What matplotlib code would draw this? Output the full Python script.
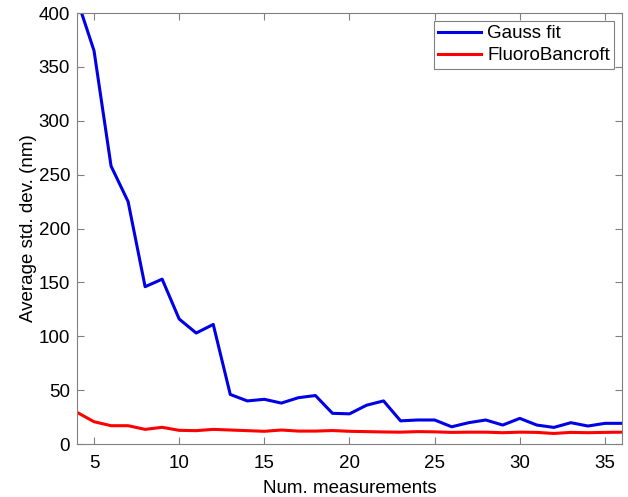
import numpy as np
import matplotlib
matplotlib.use('Agg')
import matplotlib.pyplot as plt

# number of measurements
num_meas = list(range(4, 37))
# average std. dev. (nm), Gauss fit
gauss_fit = [413, 365, 258, 225, 146, 153, 116, 103, 111, 46, 40, 41.5, 38, 43, 45,
             28.5, 28, 36, 40, 21.5, 22.3, 22.3, 16, 19.8, 22.3, 17.6, 23.8, 17.6,
             15.4, 19.8, 16.7, 19.2, 19.2]
# average std. dev. (nm), FluoroBancroft
fluoro_bancroft = [29.4, 20.7, 17, 17, 13.6, 15.5, 12.7, 12.4, 13.6, 13, 12.4, 11.8,
                   13, 12, 12, 12.5, 11.8, 11.5, 11.2, 11, 11.5, 11.3, 10.8, 11, 11,
                   10.5, 11, 10.8, 9.8, 10.8, 10.5, 10.8, 11]

plt.rcParams['font.family'] = ['Liberation Sans', 'DejaVu Sans']
plt.rcParams['font.size'] = 13.5

fig = plt.figure(figsize=(6.28, 4.97), dpi=100)
ax = fig.add_axes([0.1226, 0.1066, 0.8678, 0.8672])

ax.plot(num_meas, gauss_fit, color='#0000e6', lw=2.2, label='Gauss fit')
ax.plot(num_meas, fluoro_bancroft, color='#ff0000', lw=2.2, label='FluoroBancroft')

ax.set_xlim(4, 36)
ax.set_ylim(0, 400)
ax.set_xticks([5, 10, 15, 20, 25, 30, 35])
ax.set_yticks(range(0, 401, 50))
ax.tick_params(direction='in', top=True, right=True, length=5, color='#808080', width=0.8)
ax.tick_params(axis='x', pad=8)
ax.tick_params(axis='y', pad=5)
for s in ax.spines.values():
    s.set_color('#808080')
    s.set_linewidth(0.8)

ax.set_xlabel('Num. measurements', labelpad=6)
ax.set_ylabel('Average std. dev. (nm)', labelpad=1)

leg = ax.legend(loc='upper right', fancybox=False, framealpha=1, edgecolor='#808080',
                handlelength=2.3, handletextpad=0.3, borderpad=0.25, labelspacing=0.25,
                borderaxespad=0.4)
leg.get_frame().set_linewidth(0.8)

fig.savefig('out.png', dpi=100)
